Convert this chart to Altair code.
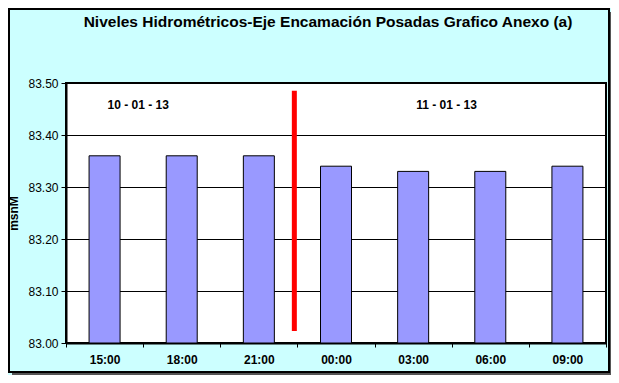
import altair as alt
import pandas as pd

times = ["15:00", "18:00", "21:00", "00:00", "03:00", "06:00", "09:00"]
levels = [83.36, 83.36, 83.36, 83.34, 83.33, 83.33, 83.34]

date_labels = ["10 - 01 - 13", "11 - 01 - 13"]
date_anchor = ["15:00", "03:00"]
date_y = [83.458, 83.458]

sep_at = ["21:00"]
sep_from = [83.023]
sep_to = [83.485]

y_ticks = [83.00, 83.10, 83.20, 83.30, 83.40, 83.50]
y_base = 83.0

df = pd.DataFrame({"hora": times, "nivel": levels, "base": [y_base] * len(times)})
df_lab = pd.DataFrame({"hora": date_anchor, "y": date_y, "t": date_labels})
df_sep = pd.DataFrame({"hora": sep_at, "y": sep_from, "y2": sep_to})

FONT = "Liberation Sans"

xscale = alt.Scale(domain=times, paddingInner=0, paddingOuter=0)
yscale = alt.Scale(domain=[83.0, 83.5], zero=False, nice=False)

bars = alt.Chart(df).mark_bar(size=31, color="#9999FF", stroke="black", strokeWidth=1,
                              clip=True).encode(
    x=alt.X("hora:N", scale=xscale, sort=times,
            axis=alt.Axis(title=None, labelAngle=0, tickBand="extent", tickSize=4,
                          labelPadding=7, labelFont=FONT, labelFontSize=12,
                          labelFontWeight="bold", labelColor="black",
                          domainColor="black", domainWidth=2, tickColor="black")),
    y=alt.Y("nivel:Q", scale=yscale,
            axis=alt.Axis(title="msnM", values=y_ticks, format=".2f", tickSize=5,
                          labelPadding=3, labelFont=FONT, labelFontSize=12,
                          labelFontWeight="normal",
                          labelColor="black", domainColor="black", domainWidth=2,
                          tickColor="black", grid=True, gridColor="black",
                          gridWidth=1, titleFont=FONT, titleFontSize=12,
                          titleFontWeight="bold", titleColor="black", titlePadding=7)),
    y2="base:Q",
)

labels = alt.Chart(df_lab).mark_text(align="left", baseline="middle", dx=3,
                                     font=FONT, fontSize=12, fontWeight="bold",
                                     color="black").encode(
    x=alt.X("hora:N", scale=xscale, sort=times),
    y=alt.Y("y:Q", scale=yscale),
    text="t:N",
)

sep = alt.Chart(df_sep).mark_rule(color="#FF0000", strokeWidth=5).encode(
    x=alt.X("hora:N", scale=xscale, sort=times, bandPosition=0.96),
    y=alt.Y("y:Q", scale=yscale),
    y2="y2:Q",
)

frame = alt.Chart(pd.DataFrame({"a": [0]})).mark_rect(
    fill=None, stroke="black", strokeWidth=2).encode(
    x=alt.value(-57), x2=alt.value(543), y=alt.value(-74), y2=alt.value(289))
shadow = alt.Chart(pd.DataFrame({"a": [0]})).mark_rect(
    fill="#555555", stroke=None).encode(
    x=alt.value(-54), x2=alt.value(545), y=alt.value(290), y2=alt.value(292))
shadow2 = alt.Chart(pd.DataFrame({"a": [0]})).mark_rect(
    fill="#555555", stroke=None).encode(
    x=alt.value(544), x2=alt.value(545), y=alt.value(-71), y2=alt.value(292))

chart = alt.layer(bars, sep, labels, frame, shadow, shadow2).properties(
    width=540, height=260,
    autosize=alt.AutoSizeParams(type="none"),
    padding={"left": 58, "top": 75, "right": 5, "bottom": 32},
    background="#CCFFFF",
    title=alt.TitleParams(
        "Niveles Hidrométricos-Eje Encamación Posadas Grafico Anexo (a)",
        font=FONT, fontSize=15.5, fontWeight="bold", color="black",
        anchor="middle", frame="group", dx=-8, offset=-22),
).configure_view(fill="white", stroke="black", strokeWidth=2)

chart.save("out.html", embed_options={"renderer": "svg", "actions": False})
